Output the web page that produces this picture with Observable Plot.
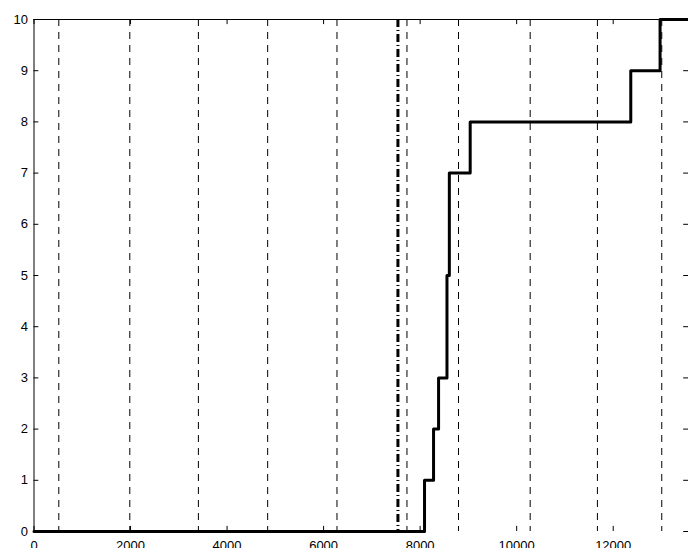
<!DOCTYPE html>
<html><head><meta charset="utf-8">
<script src="https://cdn.jsdelivr.net/npm/d3@7"></script>
<script src="https://cdn.jsdelivr.net/npm/@observablehq/plot@0.6"></script>
<style>body{margin:0;background:#fff;overflow:hidden} svg{overflow:visible}</style>
</head><body><div id="vis"></div>
<script>
// step curve: x where each new level starts
const stepX = [0, 8091, 8278, 8382, 8556, 8605, 9037, 12364, 12971, 13560];
const stepY = [0, 1, 2, 3, 5, 7, 8, 9, 10, 10];
// thin dashed verticals
const dashX = [514, 1985, 3406, 4841, 6277, 7727, 8795, 10280, 11673, 13006];
// thick dash-dot vertical
const markX = [7540];
const xTicks = [0, 2000, 4000, 6000, 8000, 10000, 12000];
const yTicks = [0, 1, 2, 3, 4, 5, 6, 7, 8, 9, 10];

const steps = stepX.map((x, i) => ({x, y: stepY[i]}));

const chart = Plot.plot({
  width: 688,
  height: 548,
  marginLeft: 33.5,
  marginRight: 0,
  marginTop: 19,
  marginBottom: 17,
  x: {domain: [0, 13560]},
  y: {domain: [0, 10]},
  style: {fontFamily: "Liberation Sans, Arial, sans-serif", fontSize: 13, color: "#000"},
  marks: [
    Plot.ruleX(dashX, {stroke: "#000", strokeWidth: 1, strokeDasharray: "7,6"}),
    Plot.ruleX(markX, {stroke: "#000", strokeWidth: 3, strokeDasharray: "8,3,1,3"}),
    // inward ticks
    Plot.ruleX(xTicks, {y1: 0, y2: 0.1, stroke: "#000"}),
    Plot.ruleX(xTicks, {y1: 9.9, y2: 10, stroke: "#000"}),
    Plot.ruleY(yTicks, {x1: 0, x2: 100, stroke: "#000"}),
    Plot.ruleY(yTicks, {x1: 13460, x2: 13560, stroke: "#000"}),
    Plot.axisX(xTicks, {tickSize: 0, tickPadding: 9, label: null, tickFormat: d => String(d)}),
    Plot.axisY(yTicks, {tickSize: 0, tickPadding: 6, label: null, tickFormat: d => String(d)}),
    Plot.line(steps, {x: "x", y: "y", curve: "step-after", stroke: "#000", strokeWidth: 3}),
    Plot.ruleY([10], {stroke: "#000"}),
    Plot.ruleX([0], {stroke: "#000"})
  ]
});
document.getElementById("vis").append(chart);
</script></body></html>
